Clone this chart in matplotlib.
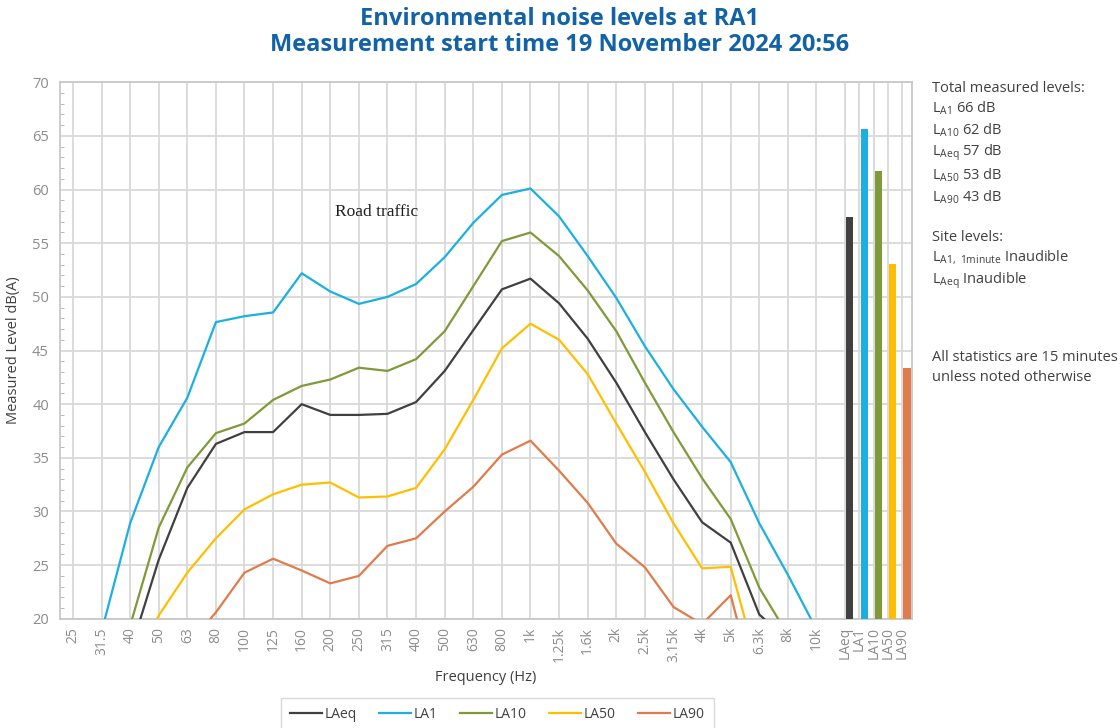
import numpy as np
import matplotlib.pyplot as plt
from matplotlib.ticker import MultipleLocator

nan = np.nan

bands = ['25', '31.5', '40', '50', '63', '80', '100', '125', '160', '200', '250',
         '315', '400', '500', '630', '800', '1k', '1.25k', '1.6k', '2k', '2.5k',
         '3.15k', '4k', '5k', '6.3k', '8k', '10k']

# third-octave levels, dB(A)
laeq = [nan, nan, 16.9, 25.5, 32.2, 36.3, 37.4, 37.4, 40.0, 39.0, 39.0,
        39.1, 40.2, 43.1, 46.9, 50.7, 51.7, 49.4, 46.1, 42.0, 37.4,
        33.0, 29.0, 27.1, 20.4, 18.0, nan]
la1 = [nan, 18.8, 28.9, 36.0, 40.6, 47.65, 48.2, 48.55, 52.2, 50.5, 49.35,
       50.0, 51.2, 53.7, 56.9, 59.5, 60.1, 57.5, 53.8, 49.9, 45.4,
       41.4, 37.9, 34.6, 28.9, 24.1, 19.0]
la10 = [nan, nan, 19.35, 28.5, 34.1, 37.3, 38.2, 40.4, 41.7, 42.3, 43.4,
        43.1, 44.2, 46.8, 51.0, 55.2, 56.0, 53.8, 50.6, 46.8, 42.0,
        37.4, 33.1, 29.3, 22.9, 18.5, nan]
la50 = [nan, nan, 15.0, 20.3, 24.3, 27.5, 30.2, 31.6, 32.5, 32.7, 31.3,
        31.4, 32.2, 35.8, 40.4, 45.2, 47.5, 46.0, 42.8, 38.2, 33.7,
        28.9, 24.7, 24.85, 15.1, nan, nan]
la90 = [nan, nan, nan, nan, 17.5, 20.6, 24.3, 25.6, 24.5, 23.3, 24.0,
        26.8, 27.5, 30.0, 32.3, 35.3, 36.6, 33.8, 30.8, 27.0, 24.8,
        21.1, 19.5, 22.2, 12.0, nan, nan]

# total measured levels (bars)
total_names = ['LAeq', 'LA1', 'LA10', 'LA50', 'LA90']
total_levels = [57.4, 65.6, 61.7, 53.1, 43.4]

colors = {'LAeq': '#404040', 'LA1': '#1bb0e0', 'LA10': '#7f9a38',
          'LA50': '#ffbf00', 'LA90': '#e07b4b'}
series = {'LAeq': laeq, 'LA1': la1, 'LA10': la10, 'LA50': la50, 'LA90': la90}

grid_c = '#d9d9d9'
tick_c = '#8c8c8c'
text_c = '#404040'

plt.rcParams['font.family'] = ['Open Sans', 'DejaVu Sans']

fig = plt.figure(figsize=(11.2, 7.28), dpi=100)
ax = fig.add_axes([0.0536, 0.150, 0.7607, 0.737])

x = np.arange(len(bands))
for name in ['LAeq', 'LA1', 'LA10', 'LA50', 'LA90']:
    ax.plot(x, series[name], color=colors[name], lw=1.6, label=name, zorder=3)

bar_x = len(bands) + 0.5 * np.arange(len(total_names))
ax.bar(bar_x + 0.04, [v - 20 for v in total_levels], bottom=20, width=0.25,
       align='edge', color=[colors[n] for n in total_names], zorder=3)

ticks = list(x) + list(bar_x)
ax.set_xticks(ticks)
ax.set_xticklabels(bands + total_names, rotation=90, color=tick_c, fontsize=10)
ax.set_xlim(-0.45, 29.34)
ax.set_ylim(20, 70)
ax.yaxis.set_major_locator(MultipleLocator(5))
ax.yaxis.set_minor_locator(MultipleLocator(1))
ax.tick_params(axis='y', which='major', length=0, labelsize=10.5, labelcolor=tick_c, pad=8)
ax.tick_params(axis='y', which='minor', direction='in', length=3, color='#b0b0b0')
ax.tick_params(axis='x', length=0, pad=6)
ax.grid(True, color=grid_c, lw=1.3, zorder=0)
ax.set_axisbelow(True)
for sp in ax.spines.values():
    sp.set_color('#c8c8c8')
    sp.set_linewidth(1.3)

ax.set_ylabel('Measured Level dB(A)', color=text_c, fontsize=10.5, labelpad=8)
ax.set_xlabel('Frequency (Hz)', color=text_c, fontsize=10.5, labelpad=6)

ax.text(9.15, 57.9, 'Road traffic', family=['Liberation Serif', 'DejaVu Serif'],
        fontsize=12.5, color='#202020', va='center', ha='left', zorder=4)

fig.suptitle('Environmental noise levels at RA1\nMeasurement start time 19 November 2024 20:56',
             color='#1262a8', fontsize=17, fontweight='bold', y=0.99,
             linespacing=1.1)

side = [
    (0.879, 'Total measured levels:'),
    (0.851, r'L$_{\mathregular{A1}}$ 66 dB'),
    (0.821, r'L$_{\mathregular{A10}}$ 62 dB'),
    (0.791, r'L$_{\mathregular{Aeq}}$ 57 dB'),
    (0.760, r'L$_{\mathregular{A50}}$ 53 dB'),
    (0.729, r'L$_{\mathregular{A90}}$ 43 dB'),
    (0.674, 'Site levels:'),
    (0.646, r'L$_{\mathregular{A1,\ 1minute}}$ Inaudible'),
    (0.614, r'L$_{\mathregular{Aeq}}$ Inaudible'),
    (0.509, 'All statistics are 15 minutes'),
    (0.481, 'unless noted otherwise'),
]
for yy, s in side:
    fig.text(0.832, yy, s, color=text_c, fontsize=10.5, va='center', ha='left')

leg = fig.legend(*ax.get_legend_handles_labels(), loc='center', ncol=5,
                 bbox_to_anchor=(0.444, 0.019), frameon=True, fontsize=10,
                 handlelength=2.3, columnspacing=1.6, handletextpad=0.2,
                 borderpad=0.35)
leg.get_frame().set_edgecolor('#d0d0d0')
leg.get_frame().set_linewidth(1.0)
leg.get_frame().set_boxstyle('square')
for t in leg.get_texts():
    t.set_color(text_c)

fig.savefig('out.png', dpi=100)
